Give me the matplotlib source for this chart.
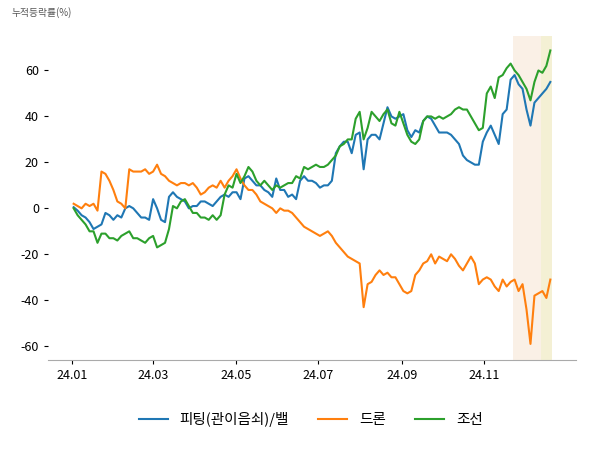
import numpy as np
import pandas as pd
import matplotlib
matplotlib.use("Agg")
import matplotlib.pyplot as plt
import matplotlib.dates as mdates

plt.rcParams['font.family'] = ['Noto Sans CJK KR', 'DejaVu Sans']
plt.rcParams['axes.unicode_minus'] = False

# cumulative return (%), roughly every 3 days
drone = [2, 1, 0, 2, 1, 2, -1, 16, 15, 12, 8, 3, 2, 0, 17, 16, 16, 16, 17, 15,
         16, 19, 15, 14, 12, 11, 10, 11, 11, 10, 11, 9, 6, 7, 9, 10, 9, 12, 9, 12,
         14, 17, 13, 10, 8, 8, 6, 3, 2, 1, 0, -2, 0, -1, -1, -2, -4, -6, -8, -9,
         -10, -11, -12, -11, -10, -12, -15, -17, -19, -21, -22, -23, -24, -43, -33, -32, -29, -27, -29, -28,
         -30, -30, -33, -36, -37, -36, -29, -27, -24, -23, -20, -24, -21, -22, -23, -20, -22, -25, -27, -24,
         -21, -24, -33, -31, -30, -31, -34, -36, -31, -34, -32, -31, -36, -33, -44, -59, -38, -37, -36, -39,
         -31]
fitting = [0.5, -1, -3, -4, -6, -9, -8, -7, -2, -3, -5, -3, -4, 0, 1, 0, -2, -4, -4, -5,
           4, 0, -5, -6, 5, 7, 5, 4, 3, 0, 1, 1, 3, 3, 2, 1, 3, 5, 6, 5,
           7, 7, 4, 13, 14, 12, 10, 10, 8, 7, 5, 13, 8, 8, 5, 6, 4, 12, 14, 12,
           12, 11, 9, 10, 10, 12, 24, 27, 29, 29, 24, 32, 33, 17, 30, 32, 32, 30, 37, 44,
           40, 39, 40, 41, 34, 31, 34, 33, 38, 40, 39, 36, 33, 33, 33, 32, 30, 28, 23, 21,
           20, 19, 19, 29, 33, 36, 32, 28, 41, 43, 56, 58, 54, 52, 43, 36, 46, 48, 50, 52,
           55]
ship = [0, -3, -5, -7, -10, -10, -15, -11, -11, -13, -13, -14, -12, -11, -10, -13, -13, -14, -15, -13,
        -12, -17, -16, -15, -9, 1, 0, 3, 4, 1, -2, -2, -4, -4, -5, -3, -5, -3, 6, 10,
        9, 15, 11, 14, 18, 16, 12, 10, 12, 10, 8, 10, 9, 10, 11, 11, 14, 13, 18, 17,
        18, 19, 18, 18, 19, 21, 23, 27, 28, 30, 30, 39, 42, 30, 35, 42, 40, 38, 41, 43,
        37, 36, 42, 37, 32, 29, 28, 30, 38, 40, 40, 39, 40, 39, 40, 41, 43, 44, 43, 43,
        40, 37, 34, 35, 50, 53, 48, 57, 58, 61, 63, 60, 58, 55, 52, 47, 55, 60, 59, 62,
        68.7]

labels = ['피팅(관이음쇠)/밸', '드론', '조선']
tick_dates = ['2024-01-01', '2024-03-01', '2024-05-01', '2024-07-01', '2024-09-01', '2024-11-01']
dates = pd.date_range('2024-01-02', '2024-12-20', periods=len(drone))

fig = plt.figure(figsize=(6, 4.5), dpi=100)
ax = fig.add_axes([0.08, 0.2, 0.88, 0.72])

ax.axvspan(pd.Timestamp('2024-11-22'), pd.Timestamp('2024-12-13'), color='#faf0e6', lw=0)
ax.axvspan(pd.Timestamp('2024-12-13'), pd.Timestamp('2024-12-21'), color='#f4f0d4', lw=0)

ax.plot(dates, fitting, color='#1f77b4', lw=1.5, label=labels[0])
ax.plot(dates, drone, color='#ff7f0e', lw=1.5, label=labels[1])
ax.plot(dates, ship, color='#2ca02c', lw=1.5, label=labels[2])

ax.set_xlim(pd.Timestamp('2023-12-14'), pd.Timestamp('2025-01-08'))
ax.set_ylim(-66, 75)
ax.set_yticks([-60, -40, -20, 0, 20, 40, 60])
ax.set_xticks(pd.to_datetime(tick_dates))
ax.xaxis.set_major_formatter(mdates.DateFormatter('%y.%m'))

for s in ['top', 'right', 'left']:
    ax.spines[s].set_visible(False)
ax.spines['bottom'].set_color('#aaaaaa')
ax.tick_params(labelsize=9, length=3)

fig.text(0.02, 0.965, '누적등락률(%)', fontsize=7, color='#555555')
fig.legend(loc='center', bbox_to_anchor=(0.518, 0.067), ncol=3, frameon=False,
           fontsize=10.5, handlelength=2.0, columnspacing=2.0)

plt.savefig('out.png', dpi=100)
